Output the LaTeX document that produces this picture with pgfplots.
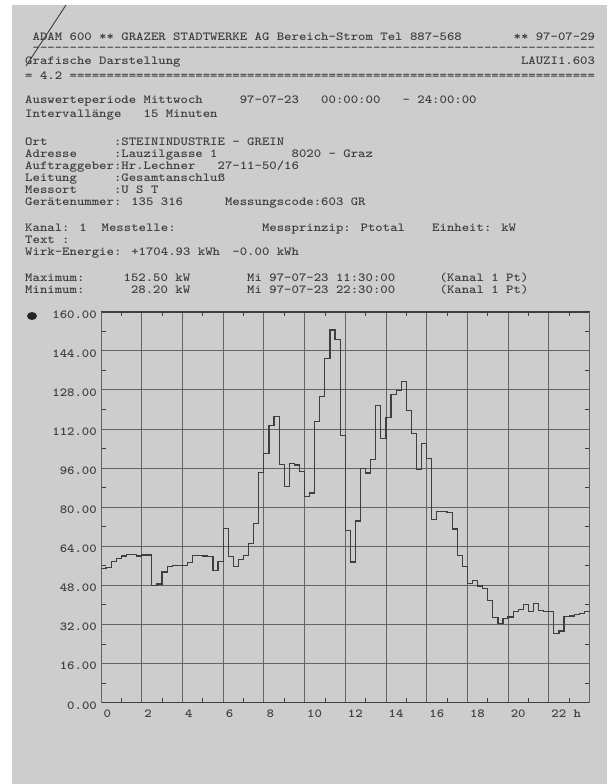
\documentclass[border=0pt]{standalone}
\usepackage{fontspec}
\usepackage{graphicx}
\usepackage{pgfplots}
\pgfplotsset{compat=1.18}
\definecolor{paper}{RGB}{205,205,205}
\definecolor{ink}{RGB}{62,62,62}
\definecolor{gridc}{RGB}{100,100,100}
\newcommand\fs{\fontsize{12.3}{14}\selectfont}
\newcommand\W[1]{\scalebox{1.146}[1]{#1}}
\newcommand\T[3]{\node[anchor=base west,inner sep=0pt,text=ink,font=\ttfamily\bfseries\fs] at ({25pt+#1*7.4pt},{-#2pt}) {\W{#3}};}
\begin{document}
\begin{tikzpicture}
\path[use as bounding box] (0,0) rectangle (607pt,-784pt);
\fill[white] (0,0) rectangle (607pt,-784pt);
\fill[paper] (12pt,-5pt) rectangle (607pt,-784pt);
\draw[ink, line width=0.9pt] (66pt,-5pt) -- (26pt,-66pt);
\fill[ink!60!black] (32pt,-316pt) ellipse (5pt and 4pt);
% header
\T{1}{41}{ADAM 600 ** GRAZER STADTWERKE AG Bereich-Strom Tel 887-568}
\T{66}{41}{** 97-07-29}
\T{1}{52}{----------------------------------------------------------------------------}
\T{0}{65}{Grafische Darstellung}
\T{67}{64}{LAUZI1.603}
\T{0}{79}{= 4.2 =======================================================================}
\T{0}{103}{Auswerteperiode Mittwoch}
\T{29}{103}{97-07-23}
\T{40}{103}{00:00:00}
\T{51}{103}{- 24:00:00}
\T{0}{117}{Intervallänge}
\T{16}{117}{15 Minuten}
\T{0}{145}{Ort}
\T{12}{145}{:STEININDUSTRIE - GREIN}
\T{0}{157.1}{Adresse}
\T{12}{157.1}{:Lauzilgasse 1}
\T{36}{157.1}{8020 - Graz}
\T{0}{169.2}{Auftraggeber:Hr.Lechner}
\T{26}{169.2}{27-11-50/16}
\T{0}{181.3}{Leitung}
\T{12}{181.3}{:Gesamtanschluß}
\T{0}{193.4}{Messort}
\T{12}{193.4}{:U S T}
\T{0}{205.5}{Gerätenummer: 135 316}
\T{27}{205.5}{Messungscode:603 GR}
\T{0}{231.5}{Kanal: 1~~Messtelle:}
\T{32}{231.5}{Messprinzip: Ptotal}
\T{55}{231.5}{Einheit: kW}
\T{0}{243.6}{Text :}
\T{0}{255.7}{Wirk-Energie: +1704.93 kWh}
\T{28}{255.7}{-0.00 kWh}
\T{0}{281.5}{Maximum:}
\T{13.3}{281.5}{152.50 kW}
\T{30}{281.5}{Mi 97-07-23 11:30:00}
\T{56}{281.5}{(Kanal 1 Pt)}
\T{0}{293.6}{Minimum:}
\T{14.3}{293.6}{28.20 kW}
\T{30}{293.6}{Mi 97-07-23 22:30:00}
\T{56}{293.6}{(Kanal 1 Pt)}
\begin{axis}[
  at={(101pt,-702.5pt)}, anchor=south west,
  scale only axis, width=488.5pt, height=390.8pt,
  xmin=0, xmax=24, ymin=0, ymax=160,
  xtick={0,2,...,22},
  xticklabels={\W{0},\W{2},\W{4},\W{6},\W{8},\W{10},\W{12},\W{14},\W{16},\W{18},\W{20},\W{22 h}},
  minor xtick={1,3,...,23},
  ytick={0,16,...,160},
  yticklabels={\W{0.00},\W{16.00},\W{32.00},\W{48.00},\W{64.00},\W{80.00},\W{96.00},\W{112.00},\W{128.00},\W{144.00},\W{160.00}},
  minor ytick={8,24,...,152},
  grid=major,
  major grid style={draw=gridc, line width=0.8pt},
  major tick length=0pt, minor tick length=4.5pt,
  minor tick style={draw=ink, line width=0.7pt},
  separate axis lines,
  x axis line style={draw=ink, line width=1.6pt},
  y axis line style={draw=gridc, line width=0.8pt},
  ticklabel style={font=\ttfamily\bfseries\fs, text=ink},
  yticklabel style={anchor=base east, inner sep=0pt, xshift=-4pt, yshift=-6.5pt},
  xticklabel style={anchor=base west, inner sep=0pt, xshift=2.5pt, yshift=-15pt},
]
\addplot[const plot, draw=ink, line width=1.2pt] coordinates {
(0.00,55.0) (0.25,55.2) (0.50,57.7) (0.75,59.1) (1.00,60.0) (1.25,60.5) (1.50,60.6) (1.75,60.0)
(2.00,60.4) (2.25,60.4) (2.50,48.0) (2.75,48.5) (3.00,53.4) (3.25,55.7) (3.50,56.2) (3.75,56.2)
(4.00,56.2) (4.25,57.2) (4.50,60.3) (4.75,60.3) (5.00,60.0) (5.25,59.8) (5.50,53.9) (5.75,57.6)
(6.00,71.4) (6.25,59.8) (6.50,55.8) (6.75,58.5) (7.00,60.3) (7.25,65.0) (7.50,73.4) (7.75,94.3)
(8.00,101.8) (8.25,113.3) (8.50,117.0) (8.75,97.6) (9.00,88.4) (9.25,97.9) (9.50,97.2) (9.75,94.6)
(10.00,84.3) (10.25,85.8) (10.50,115.2) (10.75,125.3) (11.00,141.0) (11.25,152.5) (11.50,148.5) (11.75,109.4)
(12.00,70.5) (12.25,57.5) (12.50,74.3) (12.75,95.7) (13.00,94.0) (13.25,99.4) (13.50,121.5) (13.75,108.2)
(14.00,116.8) (14.25,126.1) (14.50,127.7) (14.75,131.5) (15.00,119.5) (15.25,110.0) (15.50,95.3) (15.75,105.9)
(16.00,99.8) (16.25,74.8) (16.50,78.3) (16.75,78.3) (17.00,77.9) (17.25,71.0) (17.50,60.2) (17.75,55.7)
(18.00,48.8) (18.25,50.0) (18.50,47.7) (18.75,46.7) (19.00,41.6) (19.25,34.8) (19.50,32.3) (19.75,34.3)
(20.00,35.0) (20.25,37.2) (20.50,38.0) (20.75,40.2) (21.00,37.4) (21.25,40.6) (21.50,37.7) (21.75,37.4)
(22.00,37.2) (22.25,28.2) (22.50,29.3) (22.75,35.1) (23.00,35.4) (23.25,35.9) (23.50,36.6) (23.75,37.2)
(24.00,37.2)
};
\end{axis}
\end{tikzpicture}
\end{document}
